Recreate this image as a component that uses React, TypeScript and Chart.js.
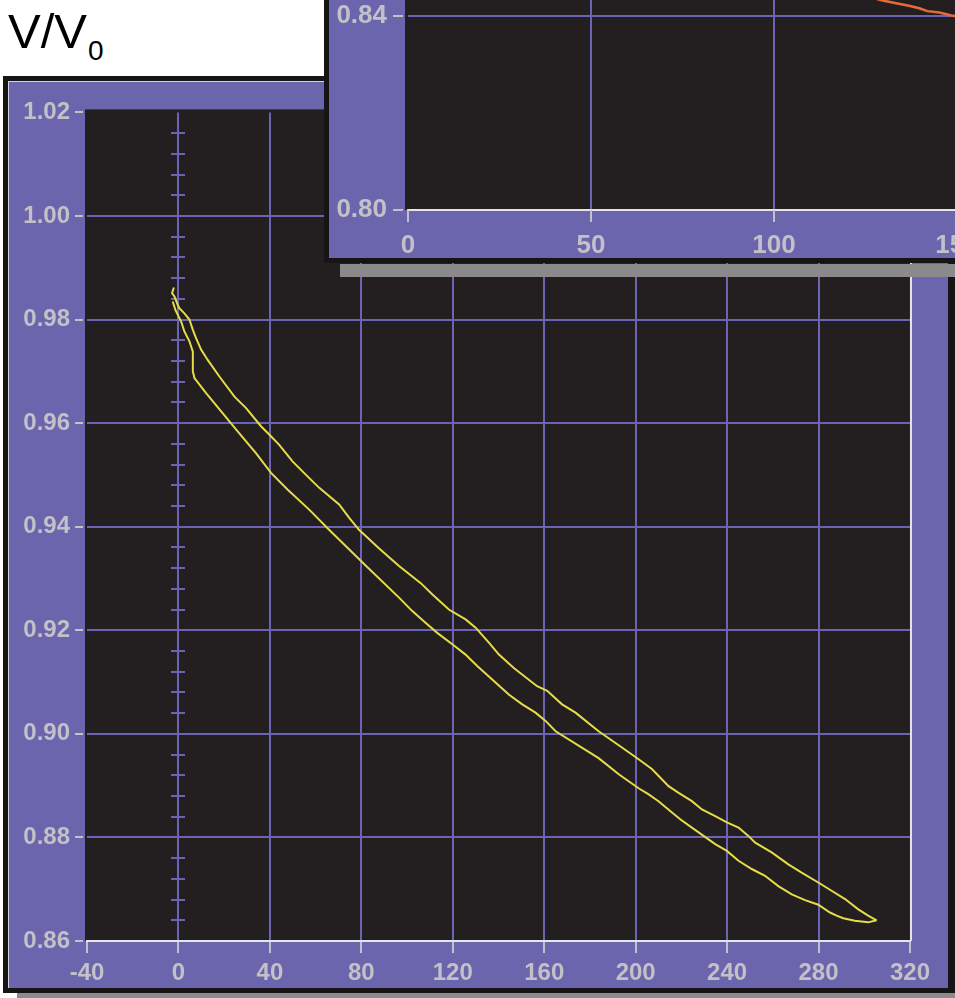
import React, { useEffect, useRef } from 'react';
import { Chart, registerables } from 'chart.js';

Chart.register(...registerables);

// ---------- data ----------
// descending branch (right / upper side of the loop)
const branchAX = [-2.0, -2.8, -1.7, -0.3, 0.4, 2.6, 4.8, 6.3, 7.7, 9.9, 12.8, 17.9, 24.5, 29.6, 36.1, 39.7, 44.1, 49.9, 55.8, 61.6, 70.3, 74.7, 79.0, 87.8, 96.5, 106.0, 111.1, 118.3, 125.6, 130.0, 135.8, 140.2, 146.7, 156.9, 161.3, 167.8, 173.7, 183.8, 192.6, 201.3, 207.1, 214.4, 218.8, 224.6, 229.0, 234.8, 239.9, 245.0, 249.3, 252.3, 259.5, 266.8, 272.6, 279.9, 285.7, 291.6, 297.4, 301.7, 305.4];
const branchAY = [0.9862, 0.9851, 0.9844, 0.9828, 0.9822, 0.9812, 0.9800, 0.9780, 0.9764, 0.9742, 0.9722, 0.9690, 0.9651, 0.9629, 0.9594, 0.9578, 0.9558, 0.9526, 0.9500, 0.9475, 0.9443, 0.9417, 0.9394, 0.9358, 0.9324, 0.9291, 0.9269, 0.9240, 0.9221, 0.9205, 0.9176, 0.9153, 0.9127, 0.9092, 0.9083, 0.9057, 0.9041, 0.9005, 0.8978, 0.8951, 0.8932, 0.8899, 0.8886, 0.8870, 0.8854, 0.8841, 0.8829, 0.8819, 0.8803, 0.8790, 0.8771, 0.8748, 0.8732, 0.8713, 0.8697, 0.8681, 0.8661, 0.8649, 0.8640];
// return branch (left / lower side of the loop)
const branchBX = [305.4, 301.7, 295.9, 290.8, 287.9, 285.0, 279.9, 274.1, 268.3, 262.4, 256.6, 250.8, 245.0, 239.9, 234.8, 229.7, 224.6, 219.5, 215.1, 210.0, 205.7, 201.3, 192.6, 183.8, 165.0, 160.6, 156.2, 150.4, 144.5, 138.7, 130.7, 125.6, 119.8, 113.2, 108.2, 102.3, 96.5, 81.2, 65.9, 57.2, 47.7, 40.5, 33.9, 25.9, 18.6, 12.1, 7.0, 6.3, 6.3, 4.8, 2.6, 1.2, -1.3, -2.5];
const branchBY = [0.8640, 0.8636, 0.8639, 0.8644, 0.8649, 0.8655, 0.8670, 0.8679, 0.8690, 0.8706, 0.8726, 0.8739, 0.8755, 0.8774, 0.8787, 0.8803, 0.8819, 0.8835, 0.8851, 0.8870, 0.8883, 0.8895, 0.8922, 0.8953, 0.9005, 0.9025, 0.9041, 0.9057, 0.9076, 0.9099, 0.9131, 0.9153, 0.9173, 0.9195, 0.9214, 0.9237, 0.9263, 0.9328, 0.9394, 0.9433, 0.9472, 0.9504, 0.9542, 0.9584, 0.9623, 0.9658, 0.9687, 0.9700, 0.9738, 0.9758, 0.9777, 0.9796, 0.9818, 0.9835];

const mainXMin = -40;
const mainXMax = 320;
const mainXStep = 40;
const mainYMin = 0.86;
const mainYMax = 1.02;
const mainYStep = 0.02;
const minorYStep = 0.004;

// inset (partly visible) chart
const insetX = [125, 129.1, 133.0, 136.9, 139.7, 141.9, 145.2, 148.5, 152];
const insetY = [0.8442, 0.8433, 0.8427, 0.8421, 0.8416, 0.8410, 0.8407, 0.8401, 0.8397];
const insetXMin = 0;
const insetXMax = 200;
const insetXStep = 50;
const insetYMin = 0.8;
const insetYMax = 0.88;
const insetYStep = 0.04;

// ---------- styles ----------
const FONT = '"Liberation Sans", Arial, sans-serif';
const PURPLE = '#6b65ad';
const PLOT_BG = '#231f20';
const GRID = '#6b64b6';
const LABEL = '#c2c1c8';
const AXIS = '#e6e6ea';
const YELLOW = '#e4dc48';
const ORANGE = '#e66a3a';

const plotBg = {
  id: 'plotBg',
  beforeDraw(chart: any, _a: any, o: any) {
    const { ctx, chartArea: a } = chart;
    ctx.save();
    ctx.fillStyle = o.color;
    ctx.fillRect(a.left - o.padLeft, a.top - o.padTop, a.right - a.left + o.padLeft, a.bottom - a.top + o.padTop);
    ctx.restore();
  },
};

const tickMarks = {
  id: 'tickMarks',
  afterDraw(chart: any, _a: any, o: any) {
    const { ctx, chartArea: a } = chart;
    const xs = chart.scales.x;
    const ys = chart.scales.y;
    ctx.save();
    ctx.strokeStyle = o.color;
    ctx.lineWidth = 2;
    ctx.beginPath();
    xs.ticks.forEach((t: any) => {
      const px = Math.round(xs.getPixelForValue(t.value));
      ctx.moveTo(px, a.bottom + o.xFrom);
      ctx.lineTo(px, a.bottom + o.xTo);
    });
    ys.ticks.forEach((t: any) => {
      const py = Math.round(ys.getPixelForValue(t.value));
      ctx.moveTo(a.left - o.yTo, py);
      ctx.lineTo(a.left - o.yFrom, py);
    });
    ctx.stroke();
    if (o.rightLine) {
      ctx.strokeStyle = o.rightLine;
      ctx.beginPath();
      ctx.moveTo(a.right + 1, a.top - 3);
      ctx.lineTo(a.right + 1, a.bottom);
      ctx.stroke();
    }
    ctx.restore();
  },
};

const minorTicks = {
  id: 'minorTicks',
  beforeDatasetsDraw(chart: any, _a: any, o: any) {
    if (!o.enabled) return;
    const { ctx } = chart;
    const xs = chart.scales.x;
    const ys = chart.scales.y;
    const px = Math.round(xs.getPixelForValue(0));
    ctx.save();
    ctx.strokeStyle = GRID;
    ctx.lineWidth = 2;
    ctx.beginPath();
    const n = Math.round((mainYMax - mainYMin) / minorYStep);
    for (let i = 1; i < n; i++) {
      const v = mainYMin + i * minorYStep;
      const py = Math.round(ys.getPixelForValue(v));
      ctx.moveTo(px - 7, py);
      ctx.lineTo(px + 7, py);
    }
    ctx.stroke();
    ctx.restore();
  },
};

const gridColor = (ctx: any) => {
  const n = ctx.scale.ticks.length;
  if (ctx.index === 0 || ctx.index === n - 1) return 'rgba(0,0,0,0)';
  return GRID;
};
const gridColorInset = (ctx: any) => (ctx.index === 0 ? 'rgba(0,0,0,0)' : GRID);

function MainChart() {
  const ref = useRef<HTMLCanvasElement>(null);
  useEffect(() => {
    const dsA = branchAX.map((x, i) => ({ x, y: branchAY[i] }));
    const dsB = branchBX.map((x, i) => ({ x, y: branchBY[i] }));
    const chart = new Chart(ref.current as HTMLCanvasElement, {
      type: 'scatter',
      data: {
        datasets: [
          { data: dsA, showLine: true, borderColor: YELLOW, borderWidth: 2, pointRadius: 0, tension: 0 },
          { data: dsB, showLine: true, borderColor: YELLOW, borderWidth: 2, pointRadius: 0, tension: 0 },
        ],
      },
      options: {
        responsive: false,
        animation: false,
        devicePixelRatio: 1,
        layout: { padding: { left: 0, top: 29, right: 35, bottom: 0 } },
        plugins: {
          legend: { display: false },
          tooltip: { enabled: false },
          plotBg: { color: PLOT_BG, padLeft: 2, padTop: 3 },
          tickMarks: { color: LABEL, xFrom: 1, xTo: 12, yFrom: 4, yTo: 12, rightLine: AXIS },
          minorTicks: { enabled: true },
        } as any,
        scales: {
          x: {
            type: 'linear',
            min: mainXMin,
            max: mainXMax,
            ticks: {
              stepSize: mainXStep,
              color: LABEL,
              font: { family: FONT, size: 24, weight: 'bold' },
              padding: 18,
              maxRotation: 0,
              autoSkip: false,
              callback: (v: any) => String(v),
            },
            grid: { color: gridColor, lineWidth: 2, drawTicks: false },
            border: { display: true, color: AXIS, width: 2 },
            afterFit: (s: any) => { s.height = 47; },
          },
          y: {
            type: 'linear',
            min: mainYMin,
            max: mainYMax,
            ticks: {
              stepSize: mainYStep,
              color: LABEL,
              font: { family: FONT, size: 24, weight: 'bold' },
              padding: 17,
              autoSkip: false,
              callback: (v: any) => Number(v).toFixed(2),
            },
            grid: { color: gridColor, lineWidth: 2, drawTicks: false },
            border: { display: false },
            afterFit: (s: any) => { s.width = 78; },
          },
        } as any,
      },
      plugins: [plotBg, tickMarks, minorTicks],
    });
    return () => chart.destroy();
  }, []);
  return (
    <canvas
      ref={ref}
      width={939}
      height={907}
      style={{ position: 'absolute', left: 9, top: 81, width: 939, height: 907 }}
    />
  );
}

function InsetChart() {
  const ref = useRef<HTMLCanvasElement>(null);
  useEffect(() => {
    const ds = insetX.map((x, i) => ({ x, y: insetY[i] }));
    const chart = new Chart(ref.current as HTMLCanvasElement, {
      type: 'scatter',
      data: {
        datasets: [{ data: ds, showLine: true, borderColor: ORANGE, borderWidth: 2.5, pointRadius: 0 }],
      },
      options: {
        responsive: false,
        animation: false,
        devicePixelRatio: 1,
        layout: { padding: { left: 0, top: 40, right: 89, bottom: 0 } },
        plugins: {
          legend: { display: false },
          tooltip: { enabled: false },
          plotBg: { color: PLOT_BG, padLeft: 3, padTop: 40 },
          tickMarks: { color: LABEL, xFrom: 0, xTo: 12, yFrom: 5, yTo: 15 },
          minorTicks: { enabled: false },
        } as any,
        scales: {
          x: {
            type: 'linear',
            min: insetXMin,
            max: insetXMax,
            ticks: {
              stepSize: insetXStep,
              color: LABEL,
              font: { family: FONT, size: 26, weight: 'bold' },
              padding: 20,
              maxRotation: 0,
              autoSkip: false,
              callback: (v: any) => String(v),
            },
            grid: { color: gridColorInset, lineWidth: 2, drawTicks: false },
            border: { display: true, color: AXIS, width: 2 },
            afterFit: (s: any) => { s.height = 48; },
          },
          y: {
            type: 'linear',
            min: insetYMin,
            max: insetYMax,
            ticks: {
              stepSize: insetYStep,
              color: LABEL,
              font: { family: FONT, size: 26, weight: 'bold' },
              padding: 21,
              autoSkip: false,
              callback: (v: any) => Number(v).toFixed(2),
            },
            grid: { color: gridColorInset, lineWidth: 2, drawTicks: false },
            border: { display: false },
            afterFit: (s: any) => { s.width = 79; },
          },
        } as any,
      },
      plugins: [plotBg, tickMarks, minorTicks],
    });
    return () => chart.destroy();
  }, []);
  return (
    <canvas
      ref={ref}
      width={900}
      height={476}
      style={{ position: 'absolute', left: 329, top: -218, width: 900, height: 476 }}
    />
  );
}

export default function App() {
  return (
    <div
      style={{
        position: 'fixed',
        left: 0,
        top: 0,
        width: 955,
        height: 998,
        overflow: 'hidden',
        background: '#ffffff',
      }}
    >
      {/* y-axis title */}
      <div style={{ position: 'absolute', left: 8, top: 7, fontFamily: FONT, fontSize: 49, lineHeight: '49px', color: '#000', whiteSpace: 'nowrap' }}>
        V/V
      </div>
      <div style={{ position: 'absolute', left: 88, top: 37, fontFamily: FONT, fontSize: 28, lineHeight: '28px', color: '#000' }}>
        0
      </div>

      {/* main frame */}
      <div style={{ position: 'absolute', left: 17, top: 992, width: 938, height: 6, background: '#8b8b8d' }} />
      <div style={{ position: 'absolute', left: 3, top: 76, width: 952, height: 917, background: '#161414' }} />
      <div
        style={{
          position: 'absolute',
          left: 8,
          top: 81,
          width: 940,
          height: 907,
          background: PURPLE,
          borderLeft: '1px solid #d4d3dc',
          borderTop: '1px solid #d4d3dc',
          boxSizing: 'border-box',
        }}
      />
      <MainChart />

      {/* inset frame */}
      <div style={{ position: 'absolute', left: 340, top: 264, width: 615, height: 13, background: '#8a8a8c' }} />
      <div style={{ position: 'absolute', left: 324, top: -10, width: 700, height: 273, background: '#161414' }} />
      <div style={{ position: 'absolute', left: 329, top: -10, width: 700, height: 268, background: PURPLE }} />
      <InsetChart />
    </div>
  );
}
